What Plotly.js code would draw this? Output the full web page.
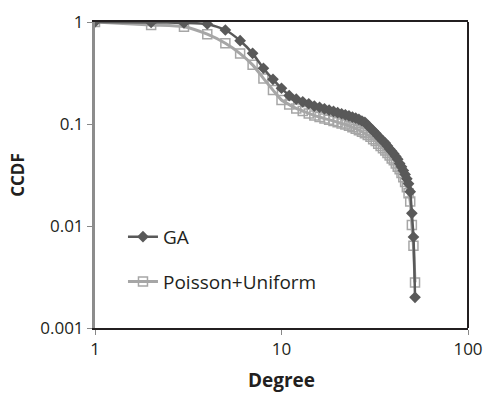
<!DOCTYPE html>
<html>
<head>
<meta charset="utf-8">
<script src="https://cdn.plot.ly/plotly-3.0.1.min.js"></script>
<style>html,body{margin:0;padding:0;background:#fff;}#chart{width:487px;height:403px;}</style>
</head>
<body>
<div id="chart"></div>
<script>
const degree = [1,2,3,4,5,6,7,8,9,10,11,12,13,14,15,16,17,18,19,20,21,22,23,24,25,26,27,28,29,30,31,32,33,34,35,36,37,38,39,40,41,42,43,44,45,46,47,48,49,50,51,52];
const gaCCDF = [1,0.99,0.98,0.956,0.835,0.656,0.493,0.352,0.274,0.224,0.19,0.175,0.165,0.158,0.15,0.146,0.141,0.137,0.133,0.129,0.126,0.123,0.12,0.117,0.114,0.111,0.107,0.104,0.097,0.091,0.086,0.081,0.076,0.072,0.068,0.065,0.061,0.057,0.054,0.051,0.048,0.045,0.041,0.038,0.035,0.032,0.029,0.026,0.0217,0.0133,0.0078,0.002];
const puCCDF = [1,0.935,0.9,0.76,0.618,0.49,0.38,0.28,0.215,0.172,0.155,0.142,0.134,0.127,0.121,0.117,0.113,0.11,0.107,0.104,0.101,0.099,0.096,0.093,0.09,0.087,0.084,0.081,0.078,0.075,0.071,0.068,0.064,0.061,0.058,0.055,0.052,0.049,0.046,0.044,0.041,0.038,0.036,0.033,0.03,0.027,0.024,0.021,0.0174,0.0102,0.0064,0.0028];
const seriesNames = ["GA", "Poisson+Uniform"];
const xTicks = [1, 10, 100];
const yTicks = [0.001, 0.01, 0.1, 1];
const yTickText = ["0.001", "0.01", "0.1", "1"];

const traces = [
  {
    x: degree, y: puCCDF, name: seriesNames[1], type: 'scatter', mode: 'lines+markers',
    legendgroup: 'b', legendrank: 2,
    line: {color: '#a6a6a6', width: 3, shape: 'spline', smoothing: 0.6},
    marker: {symbol: 'square-open', size: 9, color: '#a6a6a6', line: {width: 1.5, color: '#a6a6a6'}}
  },
  {
    x: degree, y: gaCCDF, name: seriesNames[0], type: 'scatter', mode: 'lines+markers',
    legendgroup: 'a', legendrank: 1,
    line: {color: '#595959', width: 2.5, shape: 'spline', smoothing: 0.6},
    marker: {symbol: 'diamond', size: 9, color: '#595959'}
  }
];

const layout = {
  width: 487, height: 403,
  margin: {l: 95, r: 19, t: 22, b: 75},
  paper_bgcolor: '#fff', plot_bgcolor: '#fff',
  font: {family: 'Open Sans, Liberation Sans, sans-serif', color: '#231f20'},
  showlegend: true,
  legend: {
    x: 0.075, y: 0.36, xanchor: 'left', yanchor: 'top',
    bgcolor: 'rgba(0,0,0,0)', font: {size: 19, color: '#231f20'},
    tracegroupgap: 17, traceorder: 'grouped'
  },
  xaxis: {
    type: 'log', range: [0, 2],
    tickvals: xTicks, ticktext: xTicks.map(String),
    tickfont: {size: 17, color: '#231f20'},
    ticks: 'outside', ticklen: 5, tickcolor: '#888',
    showgrid: false, zeroline: false,
    showline: true, linecolor: '#231f20', linewidth: 2, mirror: true,
    title: {text: '<b>Degree</b>', font: {size: 19, color: '#231f20'}, standoff: 14}
  },
  yaxis: {
    type: 'log', range: [-3, 0],
    tickvals: yTicks, ticktext: yTickText,
    tickfont: {size: 17, color: '#231f20'},
    ticks: 'outside', ticklen: 5, tickcolor: '#888',
    showgrid: false, zeroline: false,
    showline: true, linecolor: '#8c8c8c', linewidth: 3, mirror: false,
    title: {text: '<b>CCDF</b>', font: {size: 17, color: '#231f20'}, standoff: 12}
  },
  shapes: [
    {type: 'line', xref: 'paper', yref: 'paper', x0: 1, x1: 1, y0: 0, y1: 1, line: {color: '#231f20', width: 2}}
  ]
};

Plotly.newPlot('chart', traces, layout, {staticPlot: true, displayModeBar: false});
</script>
</body>
</html>
